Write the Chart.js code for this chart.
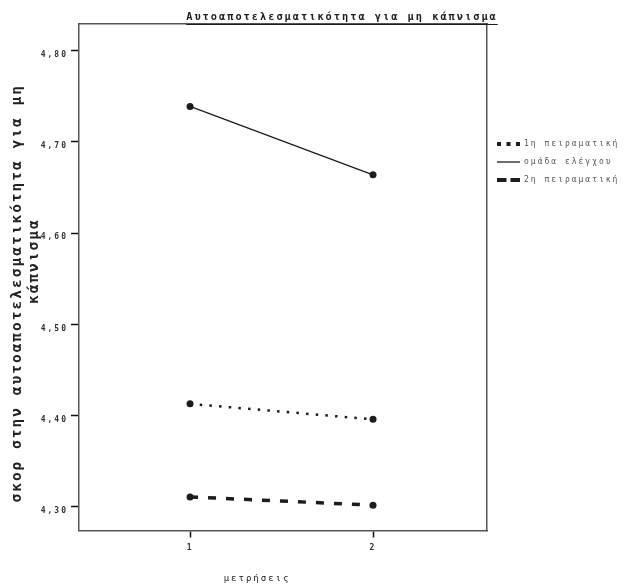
<!DOCTYPE html>
<html>
<head>
<meta charset="utf-8">
<script src="https://cdn.jsdelivr.net/npm/chart.js@4.4.1/dist/chart.umd.min.js"></script>
<style>
body { margin: 0; background: #fff; }
canvas { display: block; }
</style>
</head>
<body>
<canvas id="chart" width="626" height="588"></canvas>
<script>
const chartTitle = 'Αυτοαποτελεσματικότητα για μη κάπνισμα';
const measurements = [1, 2];
const groupNames = ['1η πειραματική', 'ομάδα ελέγχου', '2η πειραματική'];
const firstExperimental = [4.413, 4.396];
const controlGroup = [4.739, 4.664];
const secondExperimental = [4.311, 4.302];
const yTickValues = [4.3, 4.4, 4.5, 4.6, 4.7, 4.8];

const FONT = "'DejaVu Sans Mono', monospace";
const INK = '#1c1c1c';
const FRAME = '#555';

function points(values) {
  return measurements.map((m, i) => ({x: m, y: values[i]}));
}

// the original type is widely spaced
const spacing = {
  id: 'spacing',
  beforeUpdate(chart) { chart.ctx.letterSpacing = '2px'; },
  beforeDraw(chart) { chart.ctx.letterSpacing = '2px'; }
};

const underlinedTitle = {
  id: 'underlinedTitle',
  afterDraw(chart) {
    const ctx = chart.ctx;
    ctx.save();
    ctx.letterSpacing = '2px';
    ctx.font = 'bold 10.3px ' + FONT;
    ctx.fillStyle = INK;
    ctx.textAlign = 'center';
    ctx.textBaseline = 'alphabetic';
    const cx = 342;
    ctx.fillText(chartTitle, cx, 20);
    const w = ctx.measureText(chartTitle).width;
    ctx.strokeStyle = INK;
    ctx.lineWidth = 1;
    ctx.beginPath();
    ctx.moveTo(cx - w / 2, 24.5);
    ctx.lineTo(cx + w / 2, 24.5);
    ctx.stroke();
    ctx.restore();
  }
};

const lineDefaults = {
  borderColor: INK,
  backgroundColor: INK,
  pointRadius: 3.5,
  pointBackgroundColor: INK,
  pointBorderWidth: 0,
  borderCapStyle: 'butt'
};

new Chart(document.getElementById('chart'), {
  type: 'line',
  data: {
    datasets: [
      Object.assign({label: groupNames[0], data: points(firstExperimental),
        borderWidth: 2.5, borderDash: [2.5, 7.2], legendWidth: 4, legendDash: [4, 5.5]}, lineDefaults),
      Object.assign({label: groupNames[1], data: points(controlGroup),
        borderWidth: 1.3, legendWidth: 1.3, legendDash: []}, lineDefaults),
      Object.assign({label: groupNames[2], data: points(secondExperimental),
        borderWidth: 3.5, borderDash: [8, 10], legendWidth: 4, legendDash: [9.5, 4]}, lineDefaults)
    ]
  },
  options: {
    responsive: false,
    animation: false,
    layout: {padding: {top: 24, left: 0, right: 0, bottom: 0}},
    plugins: {
      tooltip: {enabled: false},
      title: {display: false},
      legend: {
        position: 'right',
        align: 'start',
        maxWidth: 139,
        title: {display: true, text: '', padding: {top: 94, bottom: 0}, font: {size: 10}},
        labels: {
          usePointStyle: true,
          pointStyleWidth: 23,
          boxHeight: 8,
          padding: 10,
          color: '#555',
          font: {family: FONT, size: 8},
          generateLabels(chart) {
            return chart.data.datasets.map((ds, i) => ({
              text: ds.label,
              fillStyle: INK,
              strokeStyle: INK,
              lineWidth: ds.legendWidth,
              lineDash: ds.legendDash,
              lineCap: 'butt',
              pointStyle: 'line',
              fontColor: '#555',
              hidden: false,
              datasetIndex: i
            }));
          }
        }
      }
    },
    scales: {
      x: {
        type: 'linear',
        position: 'bottom',
        min: 0.393,
        max: 2.623,
        afterBuildTicks: s => { s.ticks = measurements.map(v => ({value: v})); },
        afterFit: s => { s.height = 57.5; },
        grid: {display: true, drawOnChartArea: false, drawTicks: true, tickLength: 7,
          tickColor: '#111', tickWidth: 1.5},
        border: {display: true, color: FRAME, width: 1.5},
        ticks: {color: '#333', padding: 6, font: {family: FONT, size: 8, weight: 'bold'},
          callback: v => String(v)},
        title: {display: true, text: 'μετρήσεις       ', color: '#222',
          font: {family: FONT, size: 9}, padding: {top: 4, bottom: 4}}
      },
      y: {
        type: 'linear',
        position: 'left',
        min: 4.2742,
        max: 4.8293,
        afterBuildTicks: s => { s.ticks = yTickValues.map(v => ({value: v})); },
        afterFit: s => { s.width = 79; },
        grid: {display: true, drawOnChartArea: false, drawTicks: true, tickLength: 8,
          tickColor: '#111', tickWidth: 1.5},
        border: {display: true, color: FRAME, width: 1.5},
        ticks: {color: '#333', padding: 3, labelOffset: 4,
          font: {family: FONT, size: 8, weight: 'bold'},
          callback: v => v.toFixed(2).replace('.', ',')},
        title: {display: true,
          text: ['σκορ στην αυτοαποτελεσματικότητα για μη   ', '   κάπνισμα'],
          color: '#222', font: {family: FONT, size: 14.5, weight: 'bold', lineHeight: 1.15},
          padding: {top: 9, bottom: 0}}
      },
      xTop: {
        type: 'linear', position: 'top', min: 0, max: 1,
        ticks: {display: false},
        grid: {drawOnChartArea: false, drawTicks: false},
        border: {display: true, color: FRAME, width: 1.5}
      },
      yRight: {
        type: 'linear', position: 'right', min: 0, max: 1,
        ticks: {display: false},
        grid: {drawOnChartArea: false, drawTicks: false},
        border: {display: true, color: FRAME, width: 1.5}
      }
    }
  },
  plugins: [spacing, underlinedTitle]
});
</script>
</body>
</html>
